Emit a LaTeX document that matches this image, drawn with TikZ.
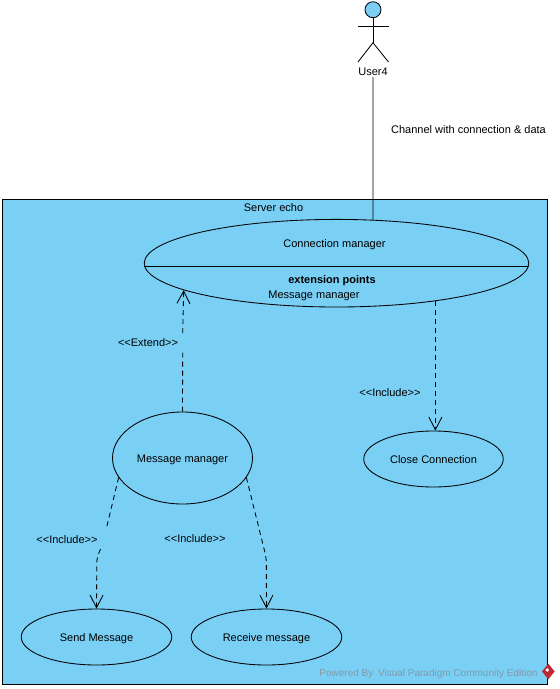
\documentclass[tikz,border=0pt]{standalone}
\usepackage{fontspec}
\setmainfont{Liberation Sans}
\usepackage{xcolor}
\usetikzlibrary{arrows.meta, positioning, shapes.geometric, calc}
\definecolor{sysblue}{RGB}{122, 207, 245}
\definecolor{markgray}{RGB}{132, 152, 168}
\definecolor{markred}{RGB}{190, 40, 50}

\begin{document}
\begin{tikzpicture}[
    x=1pt, y=-1pt,
    line width=0.85pt,
    font=\fontsize{11}{13}\selectfont,
    system/.style={rectangle, draw=black, fill=sysblue, minimum width=545pt, minimum height=485pt, inner sep=0pt},
    usecase/.style={ellipse, draw=black, fill=sysblue, inner sep=0pt, text height=9pt, text depth=1pt},
    actorhead/.style={circle, draw=black, fill=sysblue, minimum size=16pt, inner sep=0pt},
    arrow/.style={-{Straight Barb[length=12.5pt, width=13pt]}, dashed, dash pattern=on 5pt off 4pt},
    dashedline/.style={dashed, dash pattern=on 5pt off 4pt},
    tag/.style={inner sep=0pt, text height=9pt, text depth=1pt}
]
\useasboundingbox (0,0) rectangle (560,689);

% System boundary
\node[system] (server) at (275.2,441.5) {};
\node[tag] (servername) at (273.5,207) {Server echo};

% Actor
\node[actorhead] (head) at (373,9.7) {};
\coordinate (hip) at (373,42.7);
\coordinate (armleft) at (358,26);
\coordinate (armright) at (388.5,26);
\coordinate (footleft) at (358,62);
\coordinate (footright) at (388.5,62);
\draw (head.south) -- (hip);
\draw (armleft) -- (armright);
\draw (footleft) -- (hip) -- (footright);
\node[tag] (user) at (373,71) {User4};

% Use cases
\node[usecase, minimum width=384.5pt, minimum height=87.6pt] (connection) at (336.5,263.2) {};
\node[tag] (connectiontext) at (334.5,243) {Connection manager};
\node[tag, font=\fontsize{11}{13}\selectfont\bfseries] (extpoints) at (332,279) {extension points};
\node[tag] (extmessage) at (314,294) {Message manager};
\draw (connection.181.2) -- (connection.-1.2);

\node[usecase, minimum width=140pt, minimum height=92pt] (message) at (182.5,458) {Message manager};
\node[usecase, minimum width=139.5pt, minimum height=56pt] (close) at (433.5,459) {Close Connection};
\node[usecase, minimum width=150.5pt, minimum height=56pt] (send) at (96.5,637) {Send Message};
\node[usecase, minimum width=150.5pt, minimum height=56pt] (receive) at (266.5,637) {Receive message};

% Channel
\draw (user.south |- 0,77) -- (connection.50.6);
\node[tag] (channel) at (468.5,129) {Channel with connection \& data};

% Extend
\coordinate (extgaptop) at (182.7,333);
\coordinate (extgapbottom) at (182.7,352);
\draw[dashedline] (message.north) -- (extgapbottom);
\draw[arrow] (extgaptop) -- (connection.190);
\node[tag] (extendtext) at (148,342) {<{}<Extend>{}>};

% Include
\draw[arrow] (connection.-21.6) -- (close.north -| connection.-21.6);
\node[tag] (closetext) at (390,392) {<{}<Include>{}>};

\coordinate (sendgaptop) at (106,530);
\coordinate (sendgapbottom) at (100.5,549);
\coordinate (sendbend) at (96.8,558);
\draw[dashedline] (message.197.5) -- (sendgaptop);
\draw[arrow, rounded corners=5pt] (sendgapbottom) -- (sendbend) -- (send.north);
\node[tag] (sendtext) at (67,539) {<{}<Include>{}>};

\coordinate (receivebend) at (266.3,558);
\draw[arrow, rounded corners=5pt] (message.-17.5) -- (receivebend) -- (receive.north);
\node[tag] (receivetext) at (195,538) {<{}<Include>{}>};

% Watermark
\node[tag, text=markgray, font=\fontsize{10}{13}\selectfont, anchor=west] (powered) at (319,672.7) {Powered By\hspace{2pt} Visual Paradigm Community Edition};
\node[diamond, aspect=0.8, fill=markred, minimum width=13pt, minimum height=16pt, inner sep=0pt] (logo) at (548.3,671.5) {};
\node[diamond, fill=white, minimum size=4pt, inner sep=0pt] (logomark) at (547.3,670) {};

\end{tikzpicture}
\end{document}
